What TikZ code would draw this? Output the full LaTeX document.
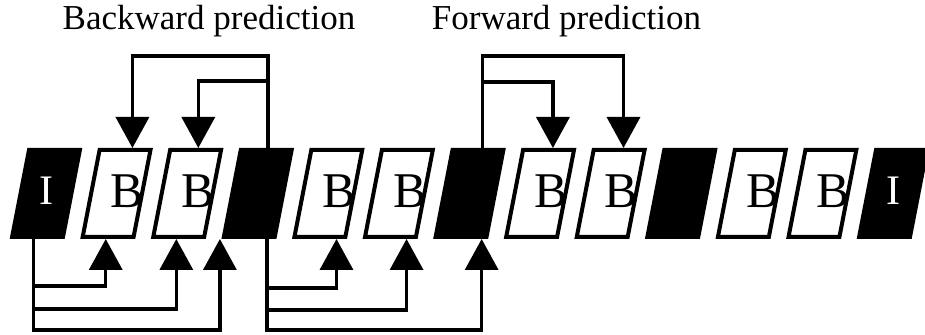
\documentclass[tikz,border=0pt]{standalone}
\usepackage{fontspec}
\setmainfont{Liberation Serif}
\usetikzlibrary{positioning, shapes.geometric, arrows.meta}

\begin{document}
\begin{tikzpicture}[x=0.5pt, y={(0,-0.5pt)},
     node distance = 7.8pt,
       frame/.style = {trapezium, trapezium left angle=79, trapezium right angle=101,
                       inner sep=0pt, text width=17pt, text height=43.5pt, text depth=0pt,
                       line width=2pt, draw},
      bframe/.style = {frame, label={[btext]center:B}},
      pframe/.style = {frame, fill},
      iframe/.style = {frame, fill, label={[itext]center:I}},
       btext/.style = {font=\fontsize{25}{25}\selectfont, xshift=5.5pt, yshift=1pt},
       itext/.style = {text=white, font=\fontsize{21}{21}\selectfont, yshift=1.2pt},
        pred/.style = {line width=1.75pt, -{Triangle[width=16.5pt, length=15.5pt]}},
       title/.style = {font=\fontsize{17.5}{17.5}\selectfont, anchor=base}
                        ]
\useasboundingbox (0,0) rectangle (925,335);
\node (backward) [title] at (209,30) {Backward prediction};
\node (forward)  [title] at (566.5,30) {Forward prediction};
% the group of pictures
\node (i1) [iframe] at (46,193.5) {};
\node (b1) [bframe, right=of i1] {};
\node (b2) [bframe, right=of b1] {};
\node (p1) [pframe, right=of b2] {};
\node (b3) [bframe, right=of p1] {};
\node (b4) [bframe, right=of b3] {};
\node (p2) [pframe, right=of b4] {};
\node (b5) [bframe, right=of p2] {};
\node (b6) [bframe, right=of b5] {};
\node (p3) [pframe, right=of b6] {};
\node (b7) [bframe, right=of p3] {};
\node (b8) [bframe, right=of b7] {};
\node (i2) [iframe, right=of b8] {};
% backward prediction from p1
\draw[pred] ([shift={(1.2,0)}]p1.top side) |- ([shift={(7,-92)}]b1.top side) -- ([shift={(7,0)}]b1.top side);
\draw[pred] ([shift={(1.2,0)}]p1.top side) |- ([shift={(2.3,-67)}]b2.top side) -- ([shift={(2.3,0)}]b2.top side);
% forward prediction from p2
\draw[pred] ([shift={(4,0)}]p2.top side) |- ([shift={(4,-92)}]b6.top side) -- ([shift={(4,0)}]b6.top side);
\draw[pred] ([shift={(4,0)}]p2.top side) |- ([shift={(4,-66)}]b5.top side) -- ([shift={(4,0)}]b5.top side);
% references below the frames
\draw[pred] ([shift={(-3.5,0)}]i1.bottom side) |- ([shift={(-2,47)}]b1.bottom side) -- ([shift={(-2,0)}]b1.bottom side);
\draw[pred] ([shift={(-3.5,0)}]i1.bottom side) |- ([shift={(-2,70)}]b2.bottom side) -- ([shift={(-2,0)}]b2.bottom side);
\draw[pred] ([shift={(-3.5,0)}]i1.bottom side) |- ([shift={(-29,91)}]p1.bottom side) -- ([shift={(-29,0)}]p1.bottom side);
\draw[pred] ([shift={(18.2,0)}]p1.bottom side) |- ([shift={(17,49)}]b3.bottom side) -- ([shift={(17,0)}]b3.bottom side);
\draw[pred] ([shift={(18.2,0)}]p1.bottom side) |- ([shift={(16.5,71)}]b4.bottom side) -- ([shift={(16.5,0)}]b4.bottom side);
\draw[pred] ([shift={(18.2,0)}]p1.bottom side) |- ([shift={(21,91)}]p2.bottom side) -- ([shift={(21,0)}]p2.bottom side);
\end{tikzpicture}
\end{document}
